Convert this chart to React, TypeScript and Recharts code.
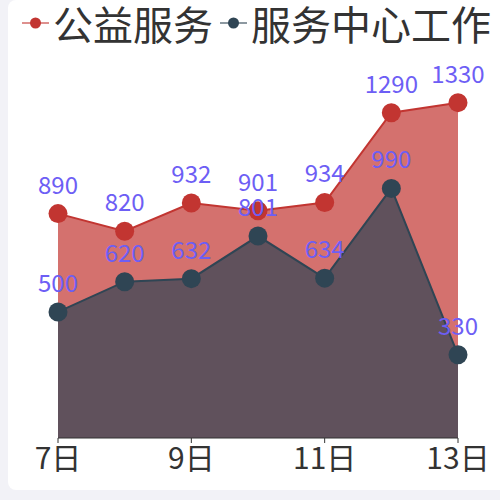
import React from "react";
import { AreaChart, Area, XAxis, YAxis, LabelList } from "recharts";

const categories = ["7日", "8日", "9日", "10日", "11日", "12日", "13日"];
const publicService = [890, 820, 932, 901, 934, 1290, 1330];
const centerWork = [500, 620, 632, 801, 634, 990, 330];
const seriesNames = ["公益服务", "服务中心工作"];
const colors = ["#c23531", "#2f4554"];

const data = categories.map((c, i) => ({
  day: c,
  a: publicService[i],
  b: centerWork[i],
}));

const FONT = '"Noto Sans CJK SC", "Noto Sans", sans-serif';

const LegendBar = () => (
  <div
    style={{
      position: "absolute",
      left: 22,
      top: 0,
      display: "flex",
      alignItems: "center",
      fontFamily: FONT,
      fontSize: 40,
      color: "#333",
      height: 46,
      whiteSpace: "nowrap",
    }}
  >
    {seriesNames.map((n, i) => (
      <div key={n} style={{ display: "flex", alignItems: "center", marginRight: i === 0 ? 7 : 0 }}>
        <svg width={27} height={20} style={{ marginRight: 4 }}>
          <line x1={0} y1={10} x2={27} y2={10} stroke={colors[i]} strokeOpacity={0.55} strokeWidth={2} />
          <circle cx={13.5} cy={10} r={5.5} fill={colors[i]} />
        </svg>
        <span>{n}</span>
      </div>
    ))}
  </div>
);

export default function App() {
  return (
    <div
      style={{
        position: "fixed",
        left: 0,
        top: 0,
        width: 500,
        height: 500,
        background: "#f2f2f7",
        overflow: "hidden",
      }}
    >
      <div
        style={{
          position: "absolute",
          left: 8,
          top: 0,
          width: 520,
          height: 490,
          background: "#ffffff",
          borderRadius: 8,
        }}
      />
      <div style={{ position: "absolute", left: 0, top: 0 }}>
        <AreaChart
          width={500}
          height={500}
          data={data}
          margin={{ top: 85, right: 42, left: 58, bottom: 22 }}
        >
          <YAxis hide domain={[0, 1400]} />
          <XAxis
            dataKey="day"
            interval={1}
            height={40}
            axisLine={{ stroke: "#333", strokeWidth: 1 }}
            tickLine={{ stroke: "#333" }}
            tickSize={5}
            tick={{ fill: "#333", fontSize: 30, fontFamily: FONT, dy: 3 }}
            padding={{ left: 0, right: 0 }}
          />
          <Area
            type="linear"
            dataKey="a"
            name={seriesNames[0]}
            stroke={colors[0]}
            strokeWidth={2}
            fill={colors[0]}
            fillOpacity={0.7}
            dot={{ r: 9.5, fill: colors[0], stroke: colors[0], strokeWidth: 0, fillOpacity: 1 }}
            activeDot={false}
            isAnimationActive={false}
          >
            <LabelList dataKey="a" position="top" offset={20} fill="#6d5ef5" fontSize={24} fontFamily={FONT} />
          </Area>
          <Area
            type="linear"
            dataKey="b"
            name={seriesNames[1]}
            stroke={colors[1]}
            strokeWidth={2}
            fill={colors[1]}
            fillOpacity={0.7}
            dot={{ r: 9.5, fill: colors[1], stroke: colors[1], strokeWidth: 0, fillOpacity: 1 }}
            activeDot={false}
            isAnimationActive={false}
          >
            <LabelList dataKey="b" position="top" offset={20} fill="#6d5ef5" fontSize={24} fontFamily={FONT} />
          </Area>
        </AreaChart>
      </div>
      <LegendBar />
    </div>
  );
}
